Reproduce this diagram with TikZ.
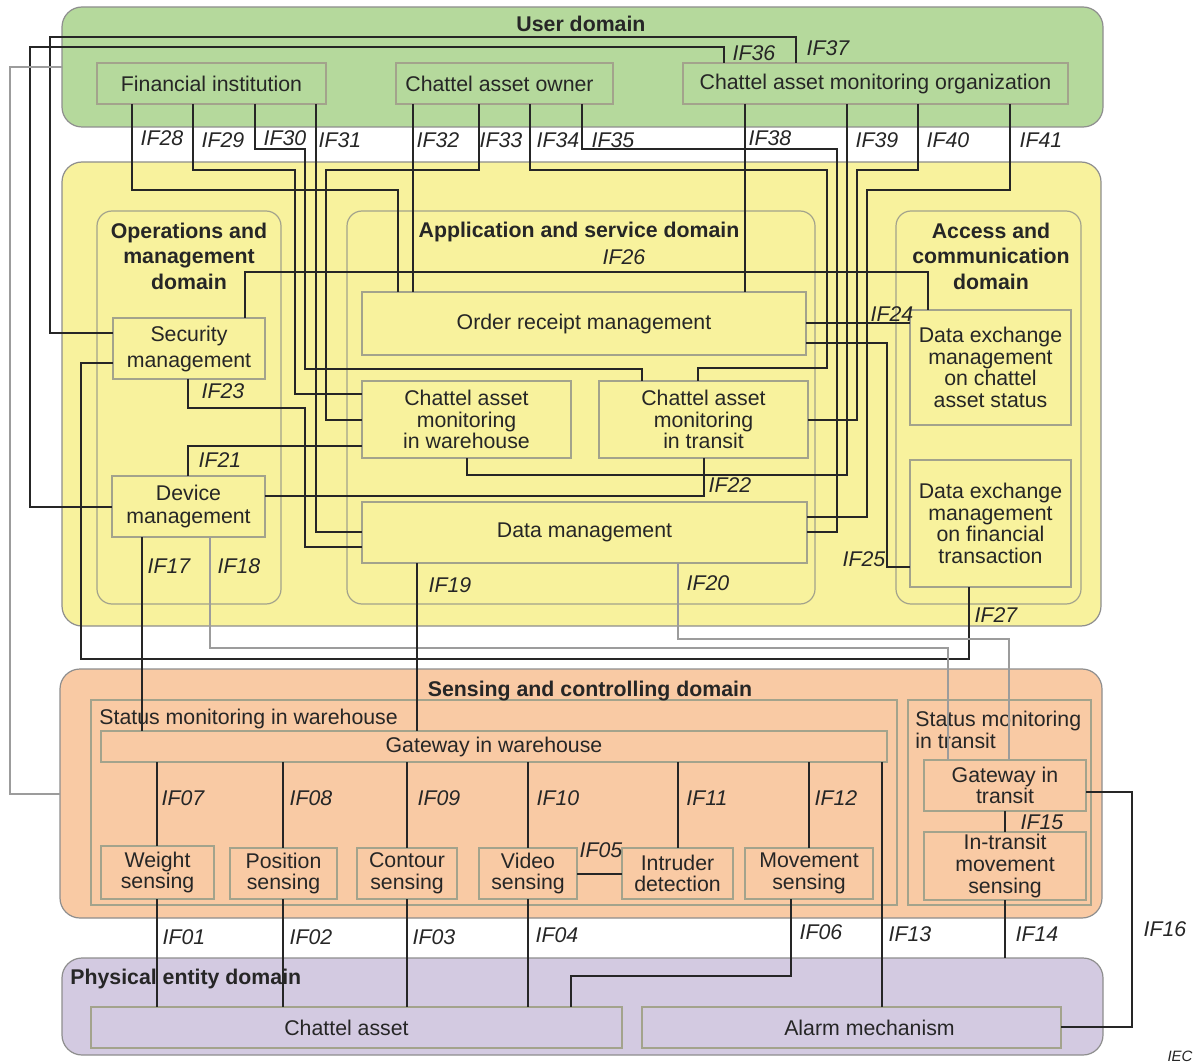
\documentclass[tikz,border=0pt]{standalone}
\usepackage{fontspec}
\setmainfont{Liberation Sans}
\setsansfont{Liberation Sans}
\usetikzlibrary{positioning}
\definecolor{userfill}{HTML}{B5D99C}
\definecolor{appfill}{HTML}{F8F29D}
\definecolor{sensfill}{HTML}{F9CAA4}
\definecolor{physfill}{HTML}{D3CAE1}
\definecolor{domline}{HTML}{8E8E8E}
\definecolor{boxline}{HTML}{A3A38C}
\definecolor{ink}{HTML}{262626}
\definecolor{wirec}{HTML}{9C9C9C}
\newcommand\boxfont{\fontsize{10.65}{10.8}\selectfont}
\newcommand\ttlfont{\bfseries\fontsize{10.65}{12.75}\selectfont}
\newcommand\iffont{\itshape\fontsize{10.65}{12}\selectfont}

\begin{document}
\begin{tikzpicture}[x=0.5pt, y=-0.5pt, ink,
  dom/.style={draw=domline, line width=0.6pt, rounded corners=10pt, inner sep=0pt, outer sep=0pt},
  area/.style={draw=boxline, line width=0.6pt, rounded corners=7.5pt, inner sep=0pt, outer sep=0pt},
  zone/.style={draw=boxline, line width=0.6pt, inner sep=0pt, outer sep=0pt},
  box/.style={draw=boxline, line width=0.6pt, inner sep=0pt, outer sep=0pt, align=center, font=\boxfont},
  ttl/.style={font=\ttlfont, align=center, inner sep=0pt},
  sublab/.style={font=\boxfont, inner sep=0pt},
  ifl/.style={font=\iffont, inner sep=0pt},
  note/.style={font=\itshape\fontsize{7.5}{9}\selectfont, inner sep=0pt},
  conn/.style={draw=ink, line width=0.7pt},
  wire/.style={draw=wirec, line width=0.55pt}]
\useasboundingbox (0,0) rectangle (1200,1064);
% ---------- domains
\node[dom, fill=userfill, minimum width=520.5pt, minimum height=60pt] (user) at (582.5,67) {};
\node[dom, fill=appfill, minimum width=519.5pt, minimum height=232pt] (mid) at (581.5,394) {};
\node[area, minimum width=92pt, minimum height=196.5pt] (ops) at (189,407.5) {};
\node[area, minimum width=234pt, minimum height=196.5pt] (asd) at (581,407.5) {};
\node[area, minimum width=92.5pt, minimum height=196.5pt] (acd) at (988.5,407.5) {};
\node[dom, fill=sensfill, minimum width=521pt, minimum height=124.5pt] (scd) at (581,793.5) {};
\node[zone, minimum width=403pt, minimum height=102.5pt] (smw) at (494,802.5) {};
\node[zone, minimum width=91.5pt, minimum height=102.5pt] (smt) at (999.5,802.5) {};
\node[dom, fill=physfill, minimum width=520.5pt, minimum height=48.5pt] (ped) at (582.5,1006.5) {};
% ---------- domain titles
\node[ttl] (usert) at (581,24) {User domain};
\node[ttl] (opst) at (189,256) {Operations and\\management\\domain};
\node[ttl] (asdt) at (579,232) {Application and service domain};
\node[ttl] (acdt) at (991,256) {Access and\\communication\\domain};
\node[ttl] (scdt) at (590,691) {Sensing and controlling domain};
\node[ttl, anchor=west] (pedt) at (70,979) {Physical entity domain};
\node[sublab, anchor=west] (smwt) at (99,719) {Status monitoring in warehouse};
\node[sublab, anchor=west, align=left] (smtt) at (915,730) {Status monitoring\\in transit};
% ---------- user domain
\node[box, fill=userfill, minimum width=114.5pt, minimum height=20.5pt] (fin) at (211.5,83.5) {Financial institution};
\node[box, fill=userfill, minimum width=108.5pt, minimum height=20.5pt] (own) at (504.5,83.5) {Chattel asset owner\hspace*{5pt}};
\node[box, fill=userfill, minimum width=192.5pt, minimum height=20.5pt] (camo) at (875.5,83.5) {Chattel asset monitoring organization};
% ---------- operations, application and access domains
\node[box, fill=appfill, minimum width=76pt, minimum height=30.5pt, font=\fontsize{10.65}{13}\selectfont] (sec) at (189,348.5) {Security\\management};
\node[box, fill=appfill, minimum width=76.5pt, minimum height=30.5pt, font=\fontsize{10.65}{11.5}\selectfont] (dev) at (188.5,506.5) {Device\\management};
\node[box, fill=appfill, minimum width=222pt, minimum height=31.5pt] (orm) at (584,323.5) {Order receipt management};
\node[box, fill=appfill, minimum width=104.5pt, minimum height=38.5pt] (camw) at (466.5,419.5) {Chattel asset\\monitoring\\in warehouse};
\node[box, fill=appfill, minimum width=104.5pt, minimum height=38.5pt, right=14pt of camw] (camt) {Chattel asset\\monitoring\\in transit};
\node[box, fill=appfill, minimum width=222.5pt, minimum height=30.5pt] (dm) at (584.5,532.5) {Data management};
\node[box, fill=appfill, minimum width=80.5pt, minimum height=57.5pt] (dxs) at (990.5,367.5) {Data exchange\\management\\on chattel\\asset status};
\node[box, fill=appfill, minimum width=80.5pt, minimum height=63.5pt, below=17.5pt of dxs] (dxf) {Data exchange\\management\\on financial\\transaction};
% ---------- sensing and controlling domain
\node[box, fill=sensfill, minimum width=393pt, minimum height=15.5pt] (gww) at (494,746.5) {Gateway in warehouse};
\node[box, fill=sensfill, minimum width=81pt, minimum height=25.5pt] (gwt) at (1005,785.5) {Gateway in\\transit};
\node[box, fill=sensfill, minimum width=81pt, minimum height=34pt, below=10.5pt of gwt] (itm) {In-transit\\movement\\sensing};
\node[box, fill=sensfill, minimum width=56.5pt, minimum height=26.5pt] (wgt) at (157.5,872.5) {Weight\\sensing};
\node[box, fill=sensfill, minimum width=53.5pt, minimum height=25.5pt] (pos) at (283.5,873.5) {Position\\sensing};
\node[box, fill=sensfill, minimum width=50pt, minimum height=25.5pt] (con) at (407,873.5) {Contour\\sensing};
\node[box, fill=sensfill, minimum width=49pt, minimum height=25.5pt] (vid) at (528,873.5) {Video\\sensing};
\node[box, fill=sensfill, minimum width=55.5pt, minimum height=25.5pt] (intr) at (677.5,873.5) {Intruder\\detection};
\node[box, fill=sensfill, minimum width=64pt, minimum height=25.5pt] (mov) at (809,873.5) {Movement\\sensing};
% ---------- physical entity domain
\node[box, fill=physfill, minimum width=265.5pt, minimum height=20.5pt] (cha) at (356.5,1027.5) {Chattel asset\hspace*{10pt}};
\node[box, fill=physfill, minimum width=209.5pt, minimum height=20.5pt] (alm) at (851.5,1027.5) {\hspace*{18pt}Alarm mechanism};
% ---------- interfaces from the user domain
\draw[conn] (fin.south-|132,0) |- (398,190) -- (orm.north-|398,0);
\draw[conn] (fin.south-|193,0) |- (295,170) |- (camw.west|-0,394);
\draw[conn] (fin.south-|255,0) |- (305,149) |- (642,369) -- (camt.north-|642,0);
\draw[conn] (fin.south-|316,0) |- (dm.west|-0,532);
\draw[conn] (own.south-|413,0) -- (orm.north-|413,0);
\draw[conn] (own.south-|479,0) |- (326,170) |- (camw.west|-0,420);
\draw[conn] (own.south-|530,0) |- (827,170) |- (698,368) -- (camt.north-|698,0);
\draw[conn] (own.south-|582,0) |- (837,149) |- (dm.east|-0,532);
\draw[conn] (camo.north-|724,0) |- (30,47) |- (dev.west|-0,507);
\draw[conn] (camo.north-|796,0) |- (50,37) |- (sec.west|-0,333);
\draw[conn] (camo.south-|745,0) -- (orm.north-|745,0);
\draw[conn] (camo.south-|847,0) |- (467,475) -- (camw.south-|467,0);
\draw[conn] (camo.south-|918,0) |- (857,170) |- (camt.east|-0,420);
\draw[conn] (camo.south-|1010,0) |- (867,190) |- (dm.east|-0,517);
% ---------- interfaces inside the middle domains
\draw[conn] (sec.north-|245,0) |- (928,272) -- (dxs.north-|928,0);
\draw[conn] (orm.east|-0,323) -- (dxs.west|-0,323);
\draw[conn] (orm.east|-0,343) -| (887,567) -- (dxf.west|-0,567);
\draw[conn] (sec.south-|188,0) |- (305,408) |- (dm.west|-0,547);
\draw[conn] (dev.north-|188,0) |- (camw.west|-0,446);
\draw[conn] (dev.east|-0,496) -| (camt.south-|704,0);
\draw[conn] (dxf.south-|969,0) |- (81,659) |- (sec.west|-0,363);
% ---------- interfaces down to sensing
\draw[conn] (dev.south-|142,0) -- (gww.north-|142,0);
\draw[wire] (dev.south-|210,0) |- (948,648) -- (gwt.north-|948,0);
\draw[conn] (dm.south-|417,0) -- (gww.north-|417,0);
\draw[wire] (dm.south-|678,0) |- (1009,639) -- (gwt.north-|1009,0);
\draw[wire] (user.west|-0,67) -| (10,794) -- (scd.west|-0,794);
% ---------- sensing and physical interfaces
\draw[conn] (gww.south-|157,0) -- (wgt.north-|157,0);
\draw[conn] (gww.south-|283,0) -- (pos.north-|283,0);
\draw[conn] (gww.south-|407,0) -- (con.north-|407,0);
\draw[conn] (gww.south-|528,0) -- (vid.north-|528,0);
\draw[conn] (gww.south-|678,0) -- (intr.north-|678,0);
\draw[conn] (gww.south-|809,0) -- (mov.north-|809,0);
\draw[conn] (gww.south-|882,0) -- (alm.north-|882,0);
\draw[conn] (wgt.south-|157,0) -- (cha.north-|157,0);
\draw[conn] (pos.south-|283,0) -- (cha.north-|283,0);
\draw[conn] (con.south-|407,0) -- (cha.north-|407,0);
\draw[conn] (vid.south-|528,0) -- (cha.north-|528,0);
\draw[conn] (vid.east|-0,874) -- (intr.west|-0,874);
\draw[conn] (mov.south-|791,0) |- (571,976) -- (cha.north-|571,0);
\draw[conn] (gwt.south-|1005,0) -- (itm.north-|1005,0);
\draw[conn] (itm.south-|1005,0) -- (ped.north-|1005,0);
\draw[conn] (gwt.east|-0,792) -| (1132,1027) -- (alm.east|-0,1027);
% ---------- interface labels
\node[ifl] (if01) at (184,937) {IF01};
\node[ifl] (if02) at (311,937) {IF02};
\node[ifl] (if03) at (434,937) {IF03};
\node[ifl] (if04) at (557,935) {IF04};
\node[ifl] (if05) at (601,850) {IF05};
\node[ifl] (if06) at (821,932) {IF06};
\node[ifl] (if07) at (183,798) {IF07};
\node[ifl] (if08) at (311,798) {IF08};
\node[ifl] (if09) at (439,798) {IF09};
\node[ifl] (if10) at (558,798) {IF10};
\node[ifl] (if11) at (707,798) {IF11};
\node[ifl] (if12) at (836,798) {IF12};
\node[ifl] (if13) at (910,934) {IF13};
\node[ifl] (if14) at (1037,934) {IF14};
\node[ifl] (if15) at (1042,822) {IF15};
\node[ifl] (if16) at (1165,929) {IF16};
\node[ifl] (if17) at (169,566) {IF17};
\node[ifl] (if18) at (239,566) {IF18};
\node[ifl] (if19) at (450,585) {IF19};
\node[ifl] (if20) at (708,583) {IF20};
\node[ifl] (if21) at (220,460) {IF21};
\node[ifl] (if22) at (730,485) {IF22};
\node[ifl] (if23) at (223,391) {IF23};
\node[ifl] (if24) at (892,314) {IF24};
\node[ifl] (if25) at (864,559) {IF25};
\node[ifl] (if26) at (624,257) {IF26};
\node[ifl] (if27) at (996,615) {IF27};
\node[ifl] (if28) at (162,138) {IF28};
\node[ifl] (if29) at (223,140) {IF29};
\node[ifl] (if30) at (285,138) {IF30};
\node[ifl] (if31) at (340,140) {IF31};
\node[ifl] (if32) at (438,140) {IF32};
\node[ifl] (if33) at (501,140) {IF33};
\node[ifl] (if34) at (558,140) {IF34};
\node[ifl] (if35) at (613,140) {IF35};
\node[ifl] (if36) at (754,53) {IF36};
\node[ifl] (if37) at (828,48) {IF37};
\node[ifl] (if38) at (770,138) {IF38};
\node[ifl] (if39) at (877,140) {IF39};
\node[ifl] (if40) at (948,140) {IF40};
\node[ifl] (if41) at (1041,140) {IF41};
\node[note] (iec) at (1180,1056) {IEC};
\end{tikzpicture}
\end{document}
